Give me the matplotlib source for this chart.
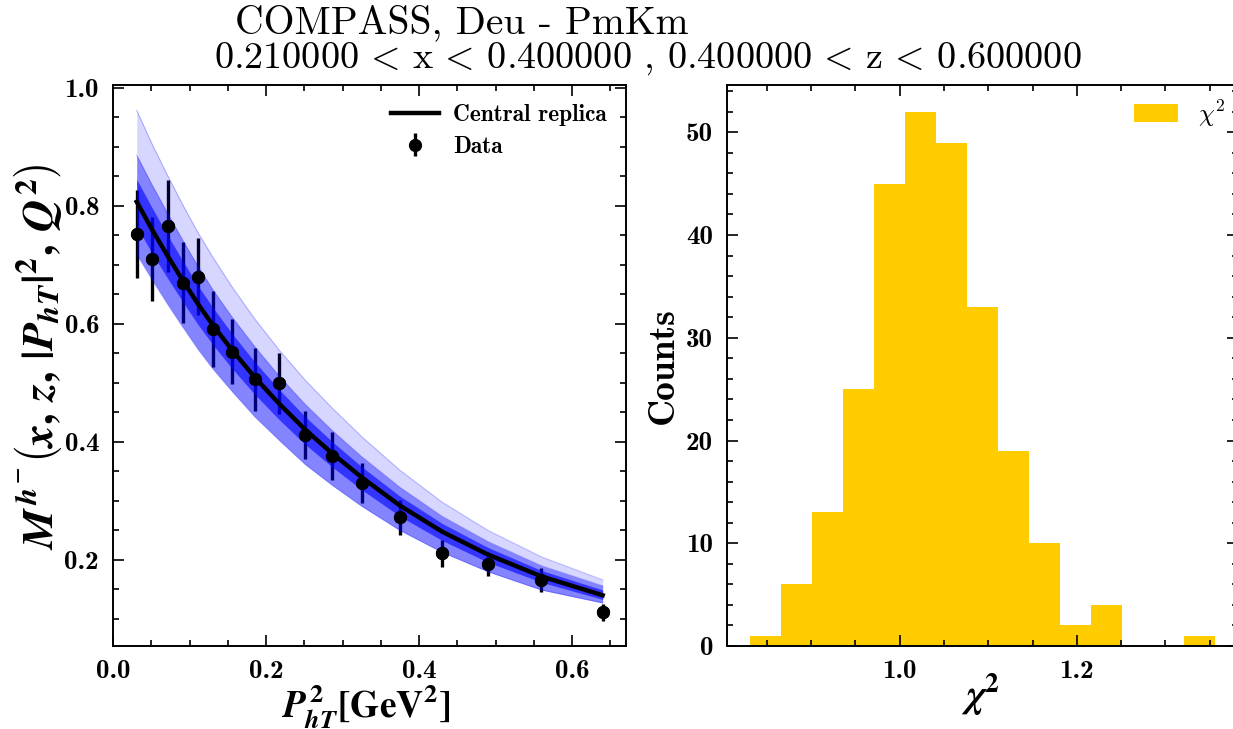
import numpy as np
import matplotlib
matplotlib.use("Agg")
import matplotlib.pyplot as plt
from matplotlib.ticker import MultipleLocator
from matplotlib.font_manager import FontProperties
import warnings
warnings.filterwarnings("ignore")

# ---------------- data ----------------
x_data = [0.031, 0.051, 0.072, 0.092, 0.111, 0.131, 0.156, 0.185, 0.217,
          0.251, 0.286, 0.325, 0.375, 0.430, 0.490, 0.560, 0.640]
y_data = [0.752, 0.710, 0.766, 0.670, 0.680, 0.591, 0.553, 0.506, 0.499,
          0.412, 0.376, 0.331, 0.272, 0.211, 0.193, 0.166, 0.111]
y_err = [0.075, 0.072, 0.078, 0.069, 0.065, 0.064, 0.055, 0.053, 0.052,
         0.041, 0.041, 0.034, 0.030, 0.023, 0.020, 0.020, 0.014]

central = [0.807, 0.760, 0.714, 0.672, 0.634, 0.597, 0.555, 0.510, 0.465,
           0.421, 0.381, 0.340, 0.292, 0.248, 0.209, 0.172, 0.140]
outer_hi = [0.962, 0.905, 0.850, 0.800, 0.755, 0.712, 0.662, 0.609, 0.556,
            0.505, 0.458, 0.409, 0.352, 0.298, 0.250, 0.205, 0.166]
mid_hi = [0.886, 0.836, 0.786, 0.740, 0.698, 0.657, 0.611, 0.562, 0.512,
          0.464, 0.420, 0.375, 0.323, 0.274, 0.231, 0.190, 0.156]
inner_hi = [0.845, 0.797, 0.749, 0.705, 0.665, 0.627, 0.583, 0.536, 0.489,
            0.443, 0.401, 0.358, 0.308, 0.262, 0.221, 0.182, 0.149]
inner_lo = [0.765, 0.720, 0.676, 0.636, 0.599, 0.564, 0.524, 0.481, 0.438,
            0.396, 0.358, 0.319, 0.274, 0.233, 0.196, 0.162, 0.133]
outer_lo = [0.718, 0.675, 0.632, 0.593, 0.557, 0.523, 0.485, 0.443, 0.403,
            0.362, 0.327, 0.291, 0.250, 0.213, 0.180, 0.149, 0.127]

chi2_counts = [1, 6, 13, 25, 45, 52, 49, 33, 19, 10, 2, 4, 0, 0, 1]
chi2_lo, chi2_hi = 0.831, 1.3555

title1 = "COMPASS, Deu - PmKm"
title2 = (r"$0.210000\,<\,\mathrm{x}\,<\,0.400000$ , "
          r"$0.400000\,<\,\mathrm{z}\,<\,0.600000$")

# ---------------- style ----------------
plt.rcParams["mathtext.fontset"] = "custom"
plt.rcParams["mathtext.rm"] = "STIXGeneral:bold"
plt.rcParams["mathtext.bf"] = "STIXGeneral:bold"
plt.rcParams["mathtext.it"] = "STIXGeneral:italic:bold"
plt.rcParams["font.family"] = "cmr10"
plt.rcParams["axes.unicode_minus"] = False
plt.rcParams["axes.linewidth"] = 1.4

tickfont = FontProperties(family="cmb10", size=19.5)
W, H = 1233, 729
fig = plt.figure(figsize=(W / 100, H / 100), dpi=100)
ax1 = fig.add_axes([113 / W, 83 / H, 513 / W, 561 / H])
ax2 = fig.add_axes([727 / W, 83 / H, 511 / W, 561 / H])

# ---------------- left panel ----------------
eb = ax1.errorbar(x_data, y_data, yerr=y_err, fmt="o", color="black", ms=8.5,
                  elinewidth=2.4, capsize=0, zorder=1, label="Data")
ax1.fill_between(x_data, outer_lo, outer_hi, color="#0000ff", alpha=0.16, lw=0, zorder=2)
ax1.fill_between(x_data, outer_lo, mid_hi, color="#0000ff", alpha=0.38, lw=0, zorder=2)
ax1.fill_between(x_data, inner_lo, inner_hi, color="#0000ff", alpha=0.6, lw=0, zorder=2)
for arr in (outer_hi, mid_hi, outer_lo):
    ax1.plot(x_data, arr, color="#0000ff", alpha=0.25, lw=0.8, zorder=2)
cl, = ax1.plot(x_data, central, color="black", lw=3.2, zorder=4, label="Central replica")
ax1.plot(x_data, y_data, "o", color="black", ms=8.5, zorder=5)

ax1.set_xlim(0.0, 0.6705)
ax1.set_ylim(0.054, 1.005)
ax1.xaxis.set_major_locator(MultipleLocator(0.2))
ax1.xaxis.set_minor_locator(MultipleLocator(0.05))
ax1.yaxis.set_major_locator(MultipleLocator(0.2))
ax1.yaxis.set_minor_locator(MultipleLocator(0.05))

ax1.legend(handles=[cl, eb], loc="upper right", frameon=False,
           prop=FontProperties(family="cmb10", size=16.8), handlelength=2.06,
           handletextpad=0.6, borderaxespad=0.42, labelspacing=0.42)

ax1.set_xlabel(r"$P_{hT}^{2}[\mathrm{GeV}^{2}]$", fontsize=27)
ax1.set_ylabel(r"$M^{h^{-}}\left(x,\,z,\,|P_{hT}|^{2},\,Q^{2}\right)$", fontsize=32)
ax1.xaxis.set_label_coords(0.492, -0.066)
ax1.yaxis.set_label_coords(-0.095, 0.515)

# ---------------- right panel ----------------
edges = np.linspace(chi2_lo, chi2_hi, len(chi2_counts) + 1)
ax2.hist(edges[:-1], bins=edges, weights=chi2_counts, color="#ffcc00",
         label=r"$\chi^2$")
ax2.set_xlim(0.805, 1.382)
ax2.set_ylim(0, 54.6)
ax2.xaxis.set_major_locator(MultipleLocator(0.2))
ax2.xaxis.set_minor_locator(MultipleLocator(0.05))
ax2.yaxis.set_major_locator(MultipleLocator(10))
ax2.yaxis.set_minor_locator(MultipleLocator(2))
leg2 = ax2.legend(loc="upper right", frameon=False, fontsize=18, handlelength=1.75,
                  handletextpad=0.8, borderaxespad=0.12)
for t in leg2.get_texts():
    t.set_math_fontfamily("cm")
ax2.set_xlabel(r"$\chi^{2}$", fontsize=28)
ax2.set_ylabel("Counts", fontproperties=FontProperties(family="cmb10", size=27))
ax2.xaxis.set_label_coords(0.495, -0.045)
ax2.yaxis.set_label_coords(-0.092, 0.5)

for ax in (ax1, ax2):
    ax.tick_params(which="both", direction="in", top=True, right=True, width=1.2)
    ax.tick_params(which="major", length=8, pad=10)
    ax.tick_params(which="minor", length=4)
    for lab in ax.get_xticklabels() + ax.get_yticklabels():
        lab.set_fontproperties(tickfont)

# ---------------- title ----------------
fig.text(235 / W, 1 - 33 / H, title1, fontsize=28.5, family="cmr10", va="baseline",
         ha="left")
fig.text(214 / W, 1 - 68 / H, title2, fontsize=27.5, family="cmr10", va="baseline",
         ha="left", math_fontfamily="cm")

fig.savefig("out.png", dpi=100)
